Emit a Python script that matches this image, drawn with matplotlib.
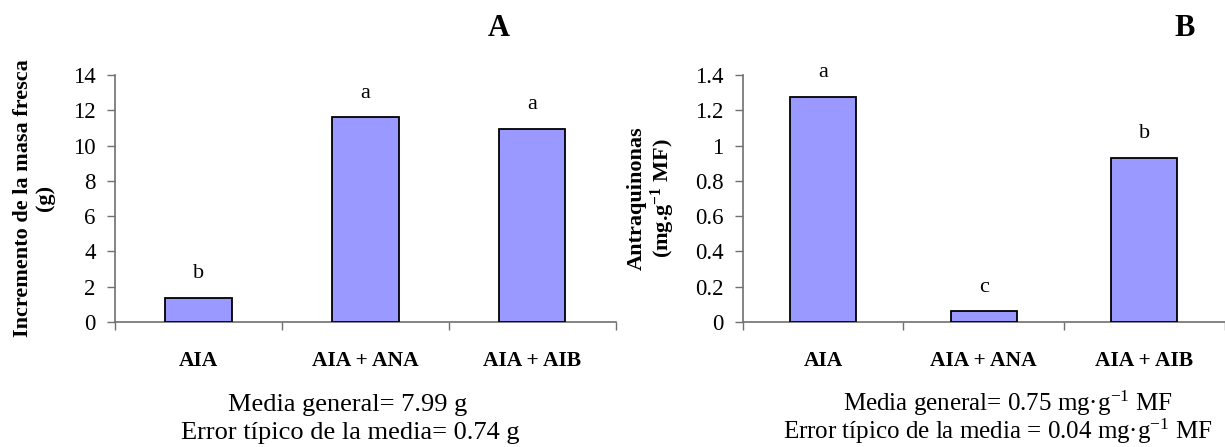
import matplotlib
matplotlib.use("Agg")
import matplotlib.pyplot as plt

plt.rcParams['font.family'] = ['Liberation Serif', 'DejaVu Serif']
plt.rcParams['mathtext.fontset'] = 'custom'
plt.rcParams['mathtext.rm'] = 'Liberation Serif'
plt.rcParams['mathtext.it'] = 'Liberation Serif:italic'
plt.rcParams['mathtext.bf'] = 'Liberation Serif:bold'

categories = ["AIA", "AIA + ANA", "AIA + AIB"]
masa_fresca = [1.38, 11.6, 10.95]
letters_a = ["b", "a", "a"]
antraquinonas = [1.275, 0.06, 0.93]
letters_b = ["a", "c", "b"]
yticks_a = [0, 2, 4, 6, 8, 10, 12, 14]
yticks_b = [0, 0.2, 0.4, 0.6, 0.8, 1.0, 1.2, 1.4]
yticklabels_b = ["0", "0.2", "0.4", "0.6", "0.8", "1", "1.2", "1.4"]

W, H = 1225, 447
fig = plt.figure(figsize=(W / 100, H / 100), dpi=100)

def px_ax(l, r, t, b):
    return fig.add_axes([l / W, 1 - b / H, (r - l) / W, (b - t) / H])

axA = px_ax(115, 615.5, 75, 322)
axB = px_ax(743, 1224.5, 75, 322)

bar_color = "#9999FF"
axis_color = "#707070"

def style(ax, values, letters, yticks, yticklabels, ymax, width):
    x = [i + 0.5 for i in range(len(values))]
    ax.bar(x, values, width=width, color=bar_color, edgecolor="black", linewidth=1.3, zorder=3)
    for xi, v, l in zip(x, values, letters):
        ax.annotate(l, (xi, v), xytext=(0, 17.5), textcoords="offset points",
                    ha="center", va="center", fontsize=16)
    ax.set_xlim(0, len(values))
    ax.set_ylim(0, ymax)
    ax.set_yticks(yticks)
    ax.set_yticklabels(yticklabels, fontsize=16.5)
    ax.set_xticks([0, 1, 2, 3])
    ax.set_xticklabels([])
    ax.set_xticks(x, minor=True)
    ax.set_xticklabels(categories, minor=True, fontsize=15.5, fontweight="bold")
    ax.tick_params(axis="x", which="minor", length=0, pad=21)
    ax.tick_params(axis="x", which="major", length=6, width=1, color=axis_color, direction="out")
    ax.tick_params(axis="y", length=6, width=1, color=axis_color, direction="out", pad=8)
    for s in ["top", "right"]:
        ax.spines[s].set_visible(False)
    for s in ["left", "bottom"]:
        ax.spines[s].set_color(axis_color)
        ax.spines[s].set_linewidth(1.2)
        ax.spines[s].set_clip_on(False)

style(axA, masa_fresca, letters_a, yticks_a, [str(v) for v in yticks_a], 14, 0.4)
style(axB, antraquinonas, letters_b, yticks_b, yticklabels_b, 1.4, 0.41)

def ftext(x, y, s, **kw):
    fig.text(x / W, 1 - y / H, s, **kw)

ftext(499, 29, "A", fontsize=22, fontweight="bold", ha="center", va="center")
ftext(1185, 29, "B", fontsize=22, fontweight="bold", ha="center", va="center")

ftext(34, 198, "Incremento de la masa fresca\n(g)", rotation=90, fontsize=16,
      fontweight="bold", ha="center", va="center", multialignment="center", linespacing=1.1)
ftext(652, 198, "Antraquinonas\n(mg.g$^{\\mathbf{-1}}$ MF)", rotation=90, fontsize=16,
      fontweight="bold", ha="center", va="center", multialignment="center", linespacing=1.1)

ftext(348, 411, "Media general= 7.99 g", fontsize=19, ha="center", va="baseline")
ftext(350, 439, "Error típico de la media= 0.74 g", fontsize=19, ha="center", va="baseline")
ftext(1008, 411, "Media general= 0.75 mg·g$^{\\mathrm{-1}}$ MF", fontsize=18, ha="center", va="baseline")
ftext(998, 439, "Error típico de la media = 0.04 mg·g$^{\\mathrm{-1}}$ MF", fontsize=18, ha="center", va="baseline")

fig.savefig("out.png", dpi=100)
